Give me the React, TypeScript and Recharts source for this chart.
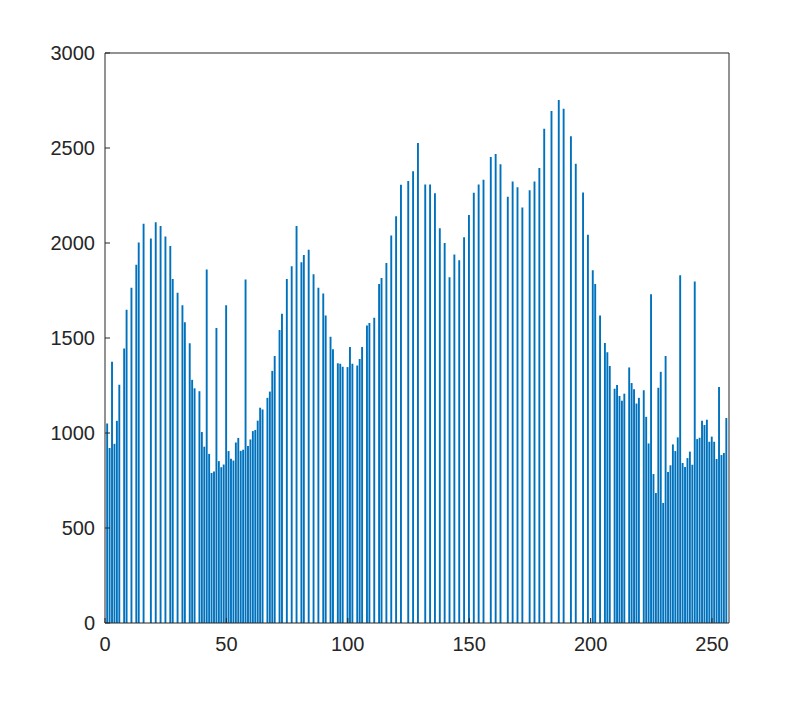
import React from 'react';
import { BarChart, Bar, XAxis, YAxis } from 'recharts';

// histogram counts for bins 1..256 (0 = empty bin)
const counts = [
  1050, 921, 1375, 943, 1064, 1254, 0, 1445, 1649, 0,
  1764, 0, 1885, 2002, 0, 2101, 0, 0, 2024, 0,
  2109, 0, 2089, 0, 2034, 0, 1984, 1810, 0, 1738,
  0, 1673, 1583, 0, 1472, 1280, 1235, 0, 1220, 1005,
  928, 1861, 890, 790, 797, 1552, 852, 820, 834, 1673,
  905, 865, 855, 950, 974, 906, 912, 1808, 932, 966,
  1010, 1016, 1065, 1133, 1124, 0, 1185, 1218, 1327, 1405,
  0, 1542, 1627, 0, 1810, 0, 1877, 0, 2089, 0,
  1899, 1937, 0, 1964, 0, 1835, 0, 1764, 0, 1734,
  1619, 0, 1506, 1441, 0, 1367, 1365, 1349, 0, 1347,
  1452, 1365, 0, 1355, 1389, 1452, 0, 1566, 1579, 0,
  1607, 0, 1784, 1816, 0, 1895, 0, 2040, 0, 2141,
  0, 2306, 0, 0, 2326, 0, 2377, 0, 2526, 0,
  0, 2308, 0, 2308, 0, 2262, 0, 2078, 0, 2000,
  0, 1820, 0, 1939, 0, 1909, 0, 2030, 0, 2147,
  0, 2264, 0, 2308, 0, 2333, 0, 0, 2453, 0,
  2468, 0, 2415, 0, 0, 2244, 0, 2324, 0, 2294,
  0, 2187, 0, 0, 2278, 0, 2324, 0, 2395, 0,
  2601, 0, 0, 2695, 0, 0, 2752, 0, 2707, 0,
  0, 2562, 0, 2417, 0, 0, 2266, 0, 2044, 0,
  1857, 1784, 0, 1619, 0, 1474, 1425, 1353, 0, 1233,
  1253, 1195, 1170, 1207, 0, 1345, 1263, 1230, 1155, 1185,
  0, 1225, 1085, 945, 1730, 784, 684, 1238, 1322, 632,
  1405, 795, 830, 940, 905, 977, 1830, 842, 821, 868,
  902, 833, 1798, 968, 975, 1065, 1042, 1070, 954, 981,
  954, 863, 1242, 884, 895, 1079,
];

const xTicks = [0, 50, 100, 150, 200, 250];
const yTicks = [0, 500, 1000, 1500, 2000, 2500, 3000];

const data = counts.map((v, i) => ({ bin: i + 1, count: v }));

const AXIS = '#262626';
const FONT = { fontFamily: 'Liberation Sans, Arial, sans-serif', fontSize: 20, fill: AXIS };

export default function App() {
  return (
    <BarChart
      width={796}
      height={693}
      data={data}
      margin={{ top: 44, right: 15, bottom: 48, left: 37 }}
    >
      <XAxis
        xAxisId="b"
        dataKey="bin"
        type="number"
        domain={[0, 257]}
        ticks={xTicks}
        interval={0}
        height={30}
        tickSize={-5}
        tickMargin={19}
        stroke={AXIS}
        tick={FONT}
        allowDataOverflow
      />
      <XAxis
        xAxisId="t"
        dataKey="bin"
        orientation="top"
        type="number"
        domain={[0, 257]}
        ticks={xTicks}
        interval={0}
        height={1}
        tickSize={-5}
        tick={false}
        stroke={AXIS}
        allowDataOverflow
      />
      <YAxis
        yAxisId="l"
        type="number"
        domain={[0, 3000]}
        ticks={yTicks}
        interval={0}
        width={60}
        tickSize={-5}
        tickMargin={15}
        stroke={AXIS}
        tick={FONT}
      />
      <YAxis
        yAxisId="r"
        orientation="right"
        type="number"
        domain={[0, 3000]}
        ticks={yTicks}
        interval={0}
        width={60}
        tickSize={-5}
        tick={false}
        stroke={AXIS}
      />
      <Bar
        xAxisId="b"
        yAxisId="l"
        dataKey="count"
        fill="#0072BD"
        barSize={1.9}
        isAnimationActive={false}
      />
    </BarChart>
  );
}
